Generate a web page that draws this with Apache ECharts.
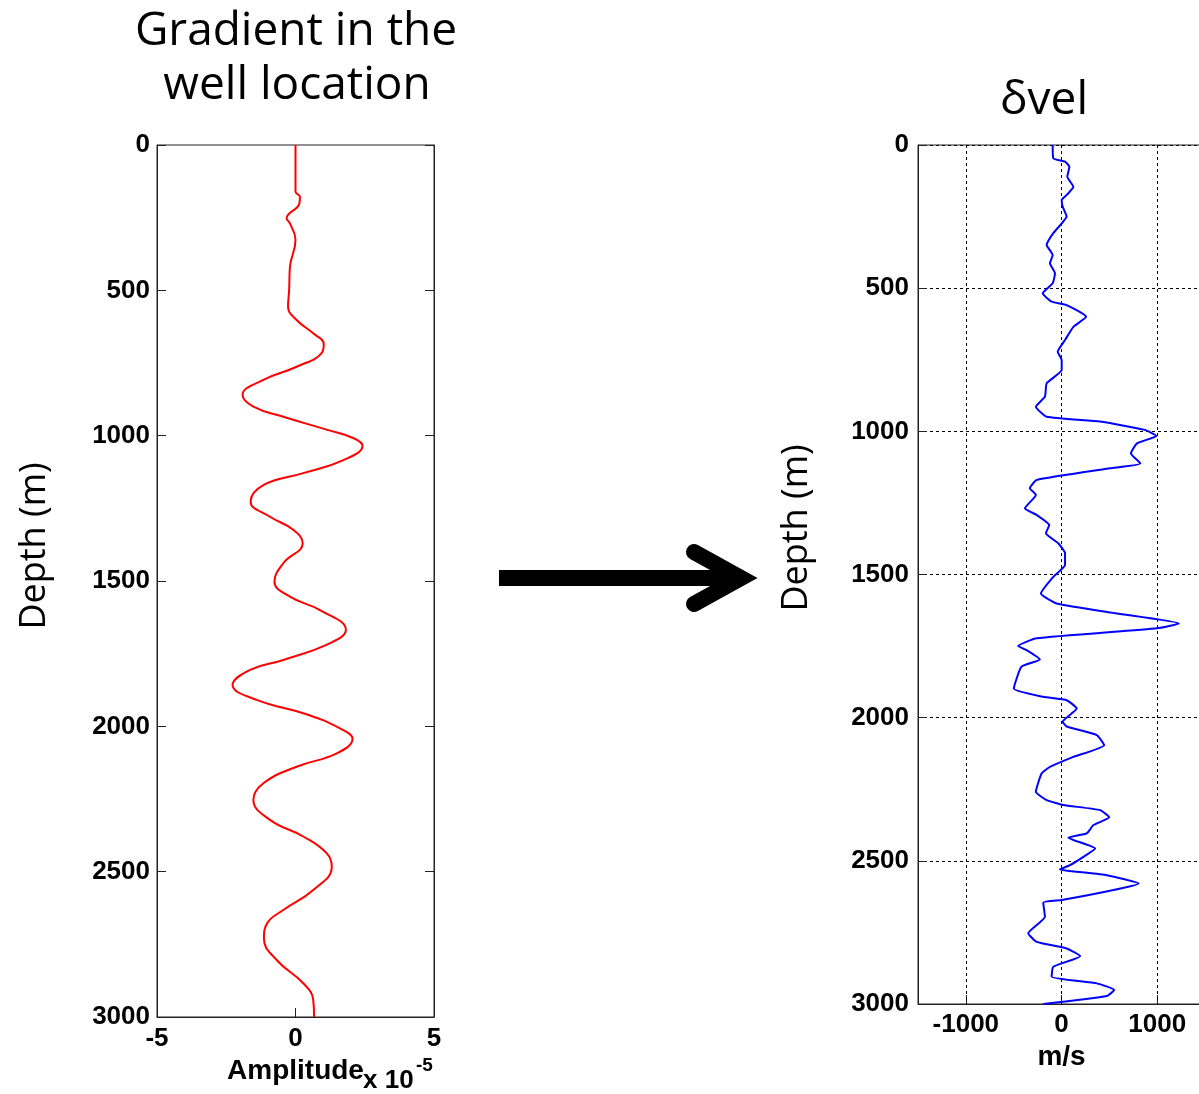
<!DOCTYPE html>
<html>
<head>
<meta charset="utf-8">
<title>Gradient and velocity update</title>
<script src="https://cdn.jsdelivr.net/npm/echarts@6/dist/echarts.min.js"></script>
<style>
  html, body { margin: 0; padding: 0; background: #fff; }
  #chart { width: 1199px; height: 1094px; }
</style>
</head>
<body>
<div id="chart"></div>
<script>
// Gradient at the well location (amplitude in units of 1e-5) against depth in metres
const gradDepth = [0, 160, 178, 201, 252, 270, 327, 419, 499, 556, 602, 648, 685, 715, 763, 808, 860, 900, 935, 980, 1009, 1035, 1084, 1129, 1170, 1227, 1279, 1324, 1370, 1439, 1502, 1554, 1600, 1668, 1714, 1772, 1806, 1858, 1909, 1960, 2007, 2043, 2093, 2139, 2196, 2253, 2322, 2379, 2437, 2483, 2563, 2632, 2677, 2729, 2804, 2884, 2941, 3000];
const gradAmp = [0, 0, 0.16, 0.14, -0.32, -0.2, 0.0, -0.2, -0.23, -0.27, 0.04, 0.64, 1.02, 0.95, 0.04, -1.16, -1.91, -1.52, -0.44, 1.15, 2.1, 2.42, 1.73, 0.28, -1.16, -1.62, -0.92, -0.08, 0.26, -0.44, -0.76, -0.2, 0.88, 1.82, 1.25, -0.44, -1.64, -2.27, -1.4, 0.45, 1.6, 2.06, 1.49, 0.04, -1.16, -1.52, -0.92, 0.28, 1.13, 1.31, 0.64, -0.44, -1.02, -1.14, -0.68, 0.28, 0.64, 0.67];

// Velocity perturbation (m/s) against depth in metres
const velDepth = [0, 47, 58, 76, 111, 146, 169, 192, 215, 250, 274, 308, 349, 384, 413, 448, 483, 518, 547, 559, 600, 635, 681, 722, 751, 786, 832, 879, 914, 949, 966, 995, 1016, 1042, 1077, 1112, 1129, 1170, 1199, 1222, 1269, 1292, 1327, 1356, 1391, 1426, 1467, 1508, 1566, 1601, 1636, 1671, 1688, 1723, 1750, 1764, 1797, 1822, 1898, 1927, 1939, 1968, 2014, 2031, 2061, 2096, 2137, 2172, 2195, 2259, 2288, 2305, 2323, 2348, 2375, 2404, 2419, 2457, 2486, 2515, 2530, 2538, 2550, 2579, 2602, 2637, 2646, 2695, 2753, 2783, 2806, 2833, 2870, 2905, 2928, 2951, 2972, 3000];
const velValue = [-92, -86, 37, 82, 61, 124, 71, 2, 12, 54, 2, -86, -155, -92, -121, -68, -92, -197, -103, 54, 257, 124, 37, -40, 2, 2, -155, -173, -268, -155, 404, 870, 992, 789, 726, 824, 509, -260, -331, -268, -383, -260, -128, -163, -34, 37, 37, -86, -215, -50, 579, 1226, 999, -260, -453, -365, -226, -418, -498, -191, 54, 159, 12, 54, 369, 446, 124, -121, -208, -268, -155, 19, 404, 498, 334, 264, 71, 352, 229, 89, -16, 159, 474, 806, 544, 2, -191, -173, -348, -260, 54, 194, -86, -103, 369, 551, 474, -191];

// Axis ticks and labels
const depthTicks = [0, 500, 1000, 1500, 2000, 2500, 3000];
const ampTicks = [-5, 0, 5];
const velTicks = [-1000, 0, 1000];
const velGrid = [-1000, 0, 1000];

const chart = echarts.init(document.getElementById('chart'), null, { renderer: 'canvas' });

const tickFont = { fontFamily: '"Liberation Sans", Arial, sans-serif', fontWeight: 'bold', fontSize: 26, color: '#000' };
const nameFontBold = { fontFamily: '"Liberation Sans", Arial, sans-serif', fontWeight: 'bold', fontSize: 28, color: '#000' };
const lightFont = '"Open Sans", sans-serif';
const frameColor = '#222';

function depthAxis(gridIndex, opts) {
  return Object.assign({
    gridIndex: gridIndex,
    type: 'value',
    inverse: true,
    min: depthTicks[0],
    max: depthTicks[depthTicks.length - 1],
    interval: depthTicks[1] - depthTicks[0],
    axisLine: { show: true, onZero: false, lineStyle: { color: frameColor, width: 1 } },
    axisTick: { show: true, inside: true, length: 9, lineStyle: { color: frameColor } },
    axisLabel: Object.assign({ margin: 7, formatter: v => String(v) }, tickFont),
    splitLine: { show: false }
  }, opts);
}

const option = {
  animation: false,
  backgroundColor: '#fff',
  grid: [
    { left: 157, top: 145, width: 277, height: 872, show: true, borderColor: frameColor, borderWidth: 1, containLabel: false, outerBoundsMode: 'none' },
    { left: 918, top: 145, width: 287, height: 859, show: true, borderColor: frameColor, borderWidth: 1, containLabel: false, outerBoundsMode: 'none' }
  ],
  xAxis: [
    {
      gridIndex: 0,
      type: 'value',
      position: 'bottom',
      min: ampTicks[0],
      max: ampTicks[ampTicks.length - 1],
      interval: ampTicks[1] - ampTicks[0],
      axisLine: { show: true, onZero: false, lineStyle: { color: frameColor } },
      axisTick: { show: true, inside: true, length: 9, lineStyle: { color: frameColor } },
      axisLabel: Object.assign({ margin: 9, formatter: v => String(v) }, tickFont),
      splitLine: { show: false },
      name: 'Amplitude',
      nameLocation: 'middle',
      nameGap: 36,
      nameTextStyle: nameFontBold
    },
    {
      gridIndex: 1,
      type: 'value',
      position: 'bottom',
      min: -1500,
      max: 1500,
      axisLine: { show: true, onZero: false, lineStyle: { color: frameColor } },
      axisTick: { show: true, inside: true, length: 9, customValues: velTicks, lineStyle: { color: frameColor } },
      axisLabel: Object.assign({ margin: 8, customValues: velTicks, formatter: v => String(v) }, tickFont),
      splitLine: { show: false },
      name: 'm/s',
      nameLocation: 'middle',
      nameGap: 34,
      nameTextStyle: nameFontBold
    }
  ],
  yAxis: [
    depthAxis(0, { position: 'left' }),
    depthAxis(0, { position: 'right', axisLabel: { show: false } }),
    depthAxis(1, {
      position: 'left',
      axisLabel: Object.assign({ margin: 9, formatter: v => String(v) }, tickFont),
      splitLine: { show: true, lineStyle: { color: '#000', width: 1, type: [3, 3] } }
    })
  ],
  series: [
    {
      type: 'line',
      xAxisIndex: 0,
      yAxisIndex: 0,
      data: gradDepth.map((d, i) => [gradAmp[i], d]),
      showSymbol: false,
      smooth: 0.45,
      lineStyle: { color: '#ff0000', width: 2 },
      z: 5
    },
    {
      type: 'line',
      xAxisIndex: 1,
      yAxisIndex: 2,
      data: velDepth.map((d, i) => [velValue[i], d]),
      showSymbol: false,
      smooth: 0.15,
      lineStyle: { color: '#0000ff', width: 2 },
      z: 5,
      markLine: {
        silent: true,
        symbol: ['none', 'none'],
        label: { show: false },
        lineStyle: { color: '#000', width: 1, type: [3, 3] },
        data: velGrid.map(v => ({ xAxis: v })),
        z: 1
      }
    }
  ],
  graphic: [
    { type: 'text', style: { text: 'Gradient in the', x: 296, y: 32, font: '46px ' + lightFont, fill: '#000', textAlign: 'center', textVerticalAlign: 'middle' } },
    { type: 'text', style: { text: 'well location', x: 297, y: 86, font: '46px ' + lightFont, fill: '#000', textAlign: 'center', textVerticalAlign: 'middle' } },
    { type: 'text', style: { text: 'δvel', x: 1044, y: 101, font: '46px ' + lightFont, fill: '#000', textAlign: 'center', textVerticalAlign: 'middle' } },
    // vertical depth labels beside each panel
    { type: 'text', x: 35, y: 546, rotation: Math.PI / 2, style: { text: 'Depth (m)', x: 0, y: 0, font: '36px ' + lightFont, fill: '#000', textAlign: 'center', textVerticalAlign: 'middle' } },
    { type: 'text', x: 797, y: 528, rotation: Math.PI / 2, style: { text: 'Depth (m)', x: 0, y: 0, font: '36px ' + lightFont, fill: '#000', textAlign: 'center', textVerticalAlign: 'middle' } },
    { type: 'text', style: { text: 'x 10', x: 363, y: 1081, font: 'bold 26px "Liberation Sans", Arial, sans-serif', fill: '#000', textAlign: 'left', textVerticalAlign: 'middle' } },
    { type: 'text', style: { text: '-5', x: 416, y: 1066, font: 'bold 19px "Liberation Sans", Arial, sans-serif', fill: '#000', textAlign: 'left', textVerticalAlign: 'middle' } },
    // arrow from the gradient panel to the velocity panel
    { type: 'rect', shape: { x: 499, y: 570, width: 232, height: 16 }, style: { fill: '#000' } },
    { type: 'polyline', shape: { points: [[694, 552], [741, 578], [694, 604]] }, style: { stroke: '#000', lineWidth: 16, lineCap: 'round', lineJoin: 'miter', fill: null } }
  ]
};

chart.setOption(option);
</script>
</body>
</html>
